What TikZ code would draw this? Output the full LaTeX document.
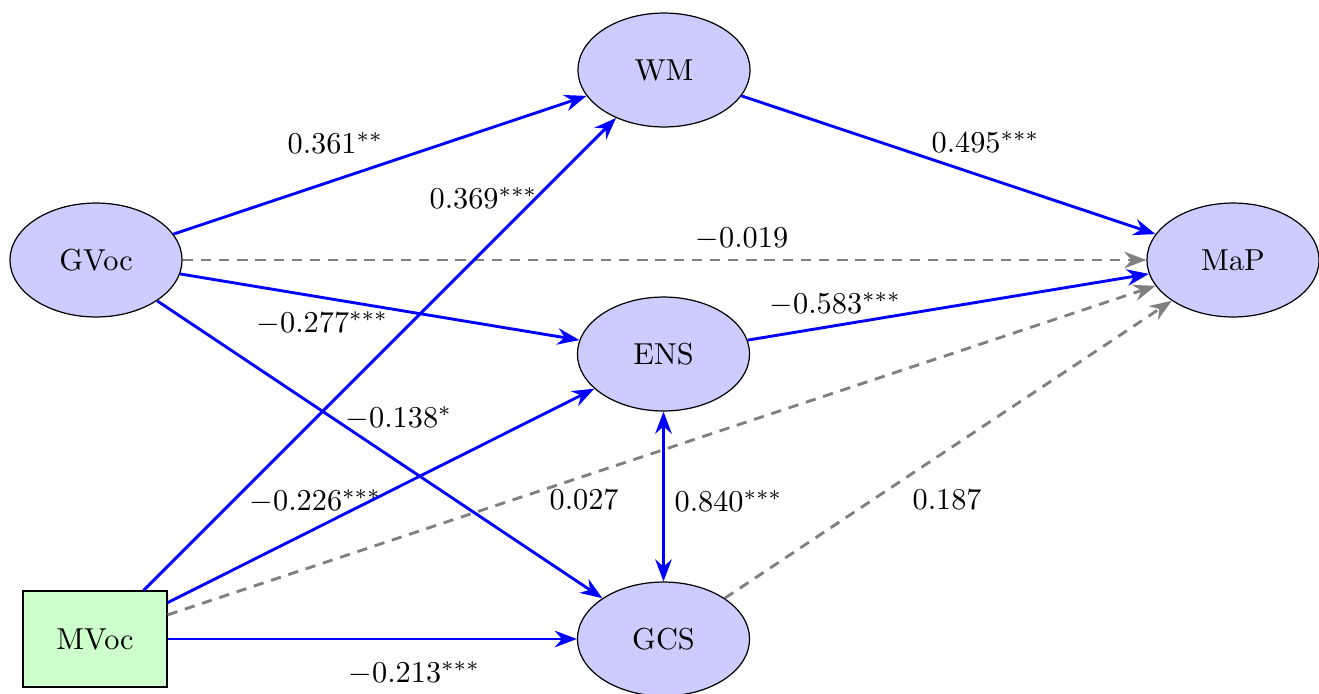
\documentclass[tikz,border=0pt]{standalone}
\usetikzlibrary{arrows.meta,shapes.geometric}
\begin{document}
\begin{tikzpicture}[x=0.33pt,y=-0.33pt,
  latent/.style={ellipse,draw=black,fill=blue!20,minimum width=56.8pt,minimum height=37.6pt,inner sep=0pt},
  observed/.style={rectangle,draw=black,fill=green!20,minimum width=47.5pt,minimum height=31.7pt,inner sep=0pt},
  sig/.style={draw=blue,line width=0.95pt,-{Stealth}},
  sigboth/.style={draw=blue,line width=0.95pt,{Stealth}-{Stealth}},
  ns/.style={draw=gray,line width=0.95pt,dash pattern=on 3.4pt off 2.6pt,-{Stealth}},
  lab/.style={anchor=base west,inner sep=0pt}]
\useasboundingbox (0,0) rectangle (1319,693);

\node[latent] (WM) at (664,70) {WM};
\node[latent] (GVoc) at (96,260) {GVoc};
\node[latent] (MaP) at (1233,260) {MaP};
\node[latent] (ENS) at (663.5,354) {ENS};
\node[latent] (GCS) at (663.5,639) {GCS};
\node[observed] (MVoc) at (95,639) {MVoc};

\draw[sig] (GVoc) -- (WM);
\draw[ns] (GVoc) -- (MaP);
\draw[sig] (GVoc) -- (ENS);
\draw[sig] (GVoc) -- (GCS);
\draw[sig] (MVoc) -- (WM);
\draw[sig] (MVoc) -- (ENS);
\draw[ns] (MVoc) -- (MaP);
\draw[sig] (MVoc) -- (GCS);
\draw[sig] (WM) -- (MaP);
\draw[sig] (ENS) -- (MaP);
\draw[sigboth] (ENS) -- (GCS);
\draw[ns] (GCS) -- (MaP);

\node[lab] (l1) at (287,153) {$0.361^{**}$};
\node[lab] (l2) at (429,208) {$0.369^{***}$};
\node[lab] (l3) at (931,152) {$0.495^{***}$};
\node[lab] (l4) at (695,247) {$-0.019$};
\node[lab] (l5) at (256,332) {$-0.277^{***}$};
\node[lab] (l6) at (769,313) {$-0.583^{***}$};
\node[lab] (l7) at (345,427) {$-0.138^{*}$};
\node[lab] (l8) at (249,510) {$-0.226^{***}$};
\node[lab] (l9) at (549,509) {$0.027$};
\node[lab] (l10) at (674,511) {$0.840^{***}$};
\node[lab] (l11) at (912,509) {$0.187$};
\node[lab] (l12) at (348,682) {$-0.213^{***}$};
\end{tikzpicture}
\end{document}
